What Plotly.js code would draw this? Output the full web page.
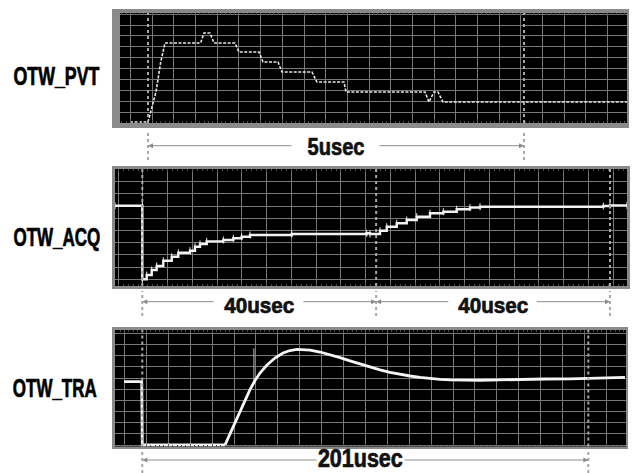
<!DOCTYPE html>
<html><head><meta charset="utf-8">
<script src="https://cdn.plot.ly/plotly-3.0.1.min.js"></script>
<style>html,body{margin:0;padding:0;background:#fff;}#chart{width:634px;height:473px;}</style>
</head><body><div id="chart"></div>
<script>
// ---- data ----
// OTW_PVT : time in usec, level in grid units
const pvtTime  = [-0.24, 0, 0.106, 0.169, 0.226, 0.70, 0.745, 0.824, 0.878, 1.157, 1.21, 1.476, 1.529, 1.729, 1.782, 2.18, 2.247, 2.606, 2.633, 3.684, 3.737, 3.803, 3.856, 3.923, 6.37];
const pvtLevel = [0, 0, 3, 6, 7.9, 7.9, 8.9, 8.9, 7.9, 7.9, 7, 7, 6, 6, 5, 5, 4, 4, 3, 3, 2, 3, 3, 2, 2];
const pvtCursors = [0, 5];
const pvtSpanLabel = ["5usec"];

// OTW_ACQ
const acqTime  = [-4.67, 0, 0, 0.75, 1.61, 2.46, 3.59, 5.03, 6.16, 8.16, 9.01, 9.87, 11.02, 13.86, 15.57, 17.0, 18.42, 25.56, 38.39, 38.95, 40.66, 41.81, 43.52, 45.23, 46.94, 49.21, 51.49, 53.78, 56.06, 57.77, 78.86, 80.0, 82.91];
const acqLevel = [6.58, 6.58, 0.55, 0.90, 1.31, 1.64, 2.07, 2.40, 2.73, 2.89, 3.22, 3.44, 3.66, 3.77, 3.91, 4.04, 4.18, 4.26, 4.32, 4.26, 4.53, 4.86, 5.14, 5.41, 5.68, 5.96, 6.09, 6.29, 6.42, 6.50, 6.56, 6.61, 6.61];
const acqCursors = [0, 40, 80];
const acqSpanLabels = ["40usec", "40usec"];

// OTW_TRA
const traTime  = [-8.2, -0.27, 0, 37.27, 39.52, 41.77, 44.03, 46.28, 48.53, 50.79, 53.04, 56.20, 59.80, 63.41, 66.56, 69.72, 75.57, 80.08, 84.59, 89.09, 93.60, 98.11, 102.61, 107.12, 111.63, 116.13, 120.64, 125.15, 129.65, 134.16, 138.67, 143.17, 147.68, 152.19, 161.20, 170.21, 181.48, 192.74, 201.76, 210.77, 217.53];
const traLevel = [5.67, 5.67, 0, 0, 1.00, 2.00, 3.01, 4.01, 4.96, 5.77, 6.45, 7.16, 7.79, 8.24, 8.46, 8.57, 8.49, 8.33, 8.10, 7.83, 7.54, 7.25, 6.98, 6.73, 6.51, 6.33, 6.18, 6.05, 5.95, 5.88, 5.83, 5.80, 5.79, 5.80, 5.83, 5.88, 5.91, 5.93, 5.97, 6.02, 6.06];
const traSpikeTime  = [50.3, 50.3];
const traSpikeLevel = [8.66, 5.75];
const traCursors = [0, 201];
const traSpanLabel = ["201usec"];

const rowLabels = ["OTW_PVT", "OTW_ACQ", "OTW_TRA"];

// ---- layout helpers ----
const W = 634, H = 473;
const px = v => v / W;
const py = v => 1 - v / H;
const FONT = '"Liberation Sans", Arial, sans-serif';
const GRID = '#787878';
const FRAME = '#8a8a8a';
const CURSOR = '#a8a8a8';

const traces = [
  {x: pvtTime, y: pvtLevel, xaxis: 'x', yaxis: 'y', mode: 'lines',
   line: {color: '#e8e8e8', width: 1.6, dash: '3px,1.5px'}},
  {x: acqTime, y: acqLevel, xaxis: 'x2', yaxis: 'y2', mode: 'lines+markers',
   line: {color: '#f2f2f2', width: 2.4, shape: 'hv'},
   marker: {symbol: 'line-ns-open', size: 5, color: '#f2f2f2', line: {color: '#f2f2f2', width: 1}}},
  {x: traSpikeTime, y: traSpikeLevel, xaxis: 'x3', yaxis: 'y3', mode: 'lines',
   line: {color: '#bdbdbd', width: 1}},
  {x: traTime, y: traLevel, xaxis: 'x3', yaxis: 'y3', mode: 'lines',
   line: {color: '#f5f5f5', width: 2.8}}
];

function xax(domain, range, tick0, dtick, anchor) {
  return {domain, range, tick0, dtick, anchor, showgrid: true, gridcolor: GRID, gridwidth: 1,
          zeroline: false, showticklabels: false, showline: false, fixedrange: true,
          ticks: 'inside', ticklen: 3, tickcolor: '#5a5a5a', mirror: 'ticks',
          minor: {ticks: 'inside', ticklen: 2, tickcolor: '#4a4a4a', dtick: dtick / 5, tick0: tick0, showgrid: false}};
}
function yax(domain, range, tick0, dtick, anchor) {
  return {domain, range, tick0, dtick, anchor, showgrid: true, gridcolor: GRID, gridwidth: 1,
          zeroline: false, showticklabels: false, ticks: '', showline: false, fixedrange: true};
}

// panel geometry (pixels)
const P1 = {x0: 120, x1: 627, y0: 13, y1: 123, fx0: 112, fx1: 629, fy0: 9, fy1: 128};
const P2 = {x0: 115, x1: 627, y0: 169, y1: 286, fx0: 112, fx1: 630, fy0: 166, fy1: 289};
const P3 = {x0: 115, x1: 626, y0: 330, y1: 446.5, fx0: 112, fx1: 628, fy0: 327, fy1: 449};

const layout = {
  width: W, height: H, margin: {l: 0, r: 0, t: 0, b: 0},
  paper_bgcolor: '#ffffff', plot_bgcolor: 'rgba(0,0,0,0)', showlegend: false,
  xaxis:  xax([px(P1.x0), px(P1.x1)], [-0.3723, 6.3697], 0.0572, 0.2882, 'y'),
  yaxis:  yax([py(P1.y1), py(P1.y0)], [-0.1, 10.9], 0.93, 1.096, 'x'),
  xaxis2: xax([px(P2.x0), px(P2.x1)], [-4.67, 82.91], 0.111, 4.234, 'y2'),
  yaxis2: yax([py(P2.y1), py(P2.y0)], [0, 9.59], 0.55, 1, 'x2'),
  xaxis3: xax([px(P3.x0), px(P3.x1)], [-12.30, 217.98], 11.72, 9.869, 'y3'),
  yaxis3: yax([py(P3.y1), py(P3.y0)], [-0.134, 10.30], 0, 1, 'x3'),
  shapes: [], annotations: []
};

[P1, P2, P3].forEach(P => {
  layout.shapes.push({type: 'rect', xref: 'paper', yref: 'paper', layer: 'below',
    x0: px(P.fx0), x1: px(P.fx1), y0: py(P.fy1), y1: py(P.fy0), fillcolor: FRAME, line: {width: 0}});
  layout.shapes.push({type: 'rect', xref: 'paper', yref: 'paper', layer: 'below',
    x0: px(P.x0), x1: px(P.x1), y0: py(P.y1), y1: py(P.y0), fillcolor: '#000000', line: {width: 0}});
});

function cursors(list, xa, P, bottomPx) {
  list.forEach(c => {
    layout.shapes.push({type: 'line', xref: xa, yref: 'paper', x0: c, x1: c,
      y0: py(P.y1), y1: py(P.y0), line: {color: CURSOR, width: 2, dash: 'dot'}});
    layout.shapes.push({type: 'line', xref: xa, yref: 'paper', x0: c, x1: c,
      y0: py(bottomPx), y1: py(P.fy1 + 2), line: {color: CURSOR, width: 2, dash: 'dot'}});
  });
}
cursors(pvtCursors, 'x', P1, 160);
cursors(acqCursors, 'x2', P2, 316);
cursors(traCursors, 'x3', P3, 473);

function arrow(xa, head, tail, yPx) {
  layout.annotations.push({xref: xa, axref: xa, x: head, ax: tail, yref: 'paper', y: py(yPx),
    ayref: 'pixel', ay: 0, showarrow: true, arrowhead: 2, arrowsize: 1, arrowwidth: 1,
    arrowcolor: '#8c8c8c', text: '', standoff: 0});
}
function spanText(xa, xv, yPx, txt, size) {
  layout.annotations.push({xref: xa, x: xv, yref: 'paper', y: py(yPx), showarrow: false,
    text: '<b>' + txt + '</b>', font: {family: FONT, size: size, color: '#111111'},
    xanchor: 'center', yanchor: 'middle'});
}
// row 1
arrow('x', pvtCursors[0], 1.928, 145.7);
arrow('x', pvtCursors[1], 3.059, 145.7);
spanText('x', (pvtCursors[0] + pvtCursors[1]) / 2, 147, pvtSpanLabel[0], 24);
// row 2
arrow('x2', acqCursors[0], 12.44, 301.7);
arrow('x2', acqCursors[1], 27.3, 301.7);
arrow('x2', acqCursors[1], 52.6, 301.7);
arrow('x2', acqCursors[2], 67.2, 301.7);
spanText('x2', (acqCursors[0] + acqCursors[1]) / 2, 305, acqSpanLabels[0], 22);
spanText('x2', (acqCursors[1] + acqCursors[2]) / 2, 305, acqSpanLabels[1], 22);
// row 3
arrow('x3', traCursors[0], 79.2, 460);
arrow('x3', traCursors[1], 117.5, 460);
spanText('x3', 98.4, 458.3, traSpanLabel[0], 25);

// left labels
[[76, 0, 56], [237, 1, 56.5], [388, 2, 55]].forEach(([yPx, i, xPx]) => {
  layout.annotations.push({xref: 'paper', yref: 'paper', x: px(xPx), y: py(yPx), showarrow: false,
    text: '<b>' + rowLabels[i] + '</b>', font: {family: FONT, size: 25, color: '#000000'},
    xanchor: 'center', yanchor: 'middle'});
});

// condensed, heavy look: horizontal squeeze of the bold texts to the widths seen in the picture
const textWidths = {"OTW_PVT": 86, "OTW_ACQ": 87, "OTW_TRA": 84, "5usec": 57, "40usec": 70, "201usec": 85};

Plotly.newPlot('chart', traces, layout, {displayModeBar: false, staticPlot: true}).then(gd => {
  gd.querySelectorAll('text.annotation-text').forEach(el => {
    const target = textWidths[el.textContent.trim()];
    if (!target) return;
    const bb = el.getBBox();
    if (!bb.width) return;
    const s = target / bb.width;
    const cx = bb.x + bb.width / 2;
    const prev = el.getAttribute('transform') || '';
    el.setAttribute('transform', (prev + ' translate(' + cx + ',0) scale(' + s + ',1) translate(' + (-cx) + ',0)').trim());
    el.style.stroke = el.style.fill || '#000';
    el.style.strokeWidth = '0.7px';
  });
});
</script>
</body></html>
